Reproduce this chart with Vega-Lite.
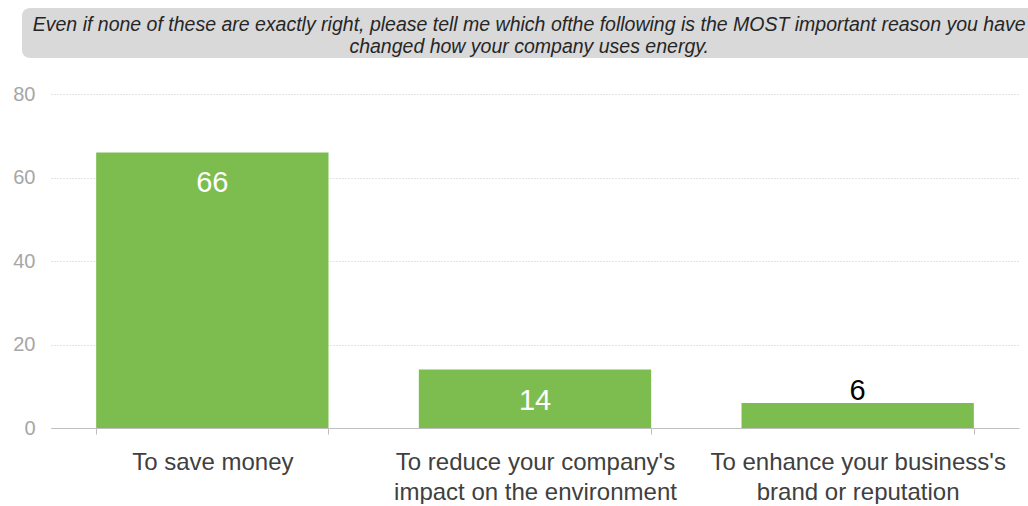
{
  "$schema": "https://vega.github.io/schema/vega-lite/v6.json",
  "background": "white",
  "padding": {"left": 12, "top": 8, "right": 0, "bottom": 0},
  "config": {"view": {"stroke": null}, "font": "Liberation Sans"},
  "spacing": 26,
  "vconcat": [
    {
      "width": 968,
      "height": 50,
      "data": {"values": [{"q": "Even if none of these are exactly right, please tell me which ofthe following is the MOST important reason you have\nchanged how your company uses energy."}]},
      "layer": [
        {
          "mark": {"type": "rect", "color": "#d9d9d9", "cornerRadius": 8},
          "encoding": {
            "x": {"datum": -0.03, "type": "quantitative", "scale": {"domain": [0, 1], "nice": false, "zero": false}, "axis": null},
            "x2": {"datum": 1.02}
          }
        },
        {
          "mark": {"type": "text", "fontStyle": "italic", "fontSize": 19.5, "lineBreak": "\n", "lineHeight": 22, "color": "#262626", "align": "center", "baseline": "middle", "dy": -8},
          "encoding": {
            "x": {"datum": 0.494, "type": "quantitative"},
            "text": {"field": "q"}
          }
        }
      ]
    },
    {
      "width": 968,
      "height": 334,
      "data": {"values": [
        {"reason": "To save money", "pct": 66},
        {"reason": "To reduce your company's|impact on the environment", "pct": 14},
        {"reason": "To enhance your business's|brand or reputation", "pct": 6}
      ]},
      "encoding": {
        "x": {"field": "reason", "type": "nominal", "sort": null,
          "scale": {"paddingInner": 0.28, "paddingOuter": 0.14},
          "axis": {"title": null, "labelAngle": 0, "labelLimit": 0, "labelExpr": "split(datum.label, '|')",
            "labelFontSize": 24, "labelColor": "#404040", "labelPadding": 16, "labelLineHeight": 30,
            "domainColor": "#bfbfbf", "tickColor": "#bfbfbf", "tickSize": 6, "tickBand": "extent"}},
        "y": {"field": "pct", "type": "quantitative",
          "scale": {"domain": [0, 80], "nice": false},
          "axis": {"title": null, "values": [0, 20, 40, 60, 80], "domain": false, "ticks": false,
            "labelFontSize": 20, "labelColor": "#a6a6a6", "labelPadding": 16,
            "gridColor": "#c8c8c8", "gridDash": [1, 2]}}
      },
      "layer": [
        {"mark": {"type": "bar", "color": "#7dbd4f"}},
        {"transform": [{"filter": "datum.pct >= 10"}],
          "mark": {"type": "text", "baseline": "top", "dy": 17, "fontSize": 29, "color": "white"},
          "encoding": {"text": {"field": "pct"}}},
        {"transform": [{"filter": "datum.pct < 10"}],
          "mark": {"type": "text", "baseline": "alphabetic", "dy": -3, "fontSize": 29, "color": "black"},
          "encoding": {"text": {"field": "pct"}}}
      ]
    }
  ]
}
